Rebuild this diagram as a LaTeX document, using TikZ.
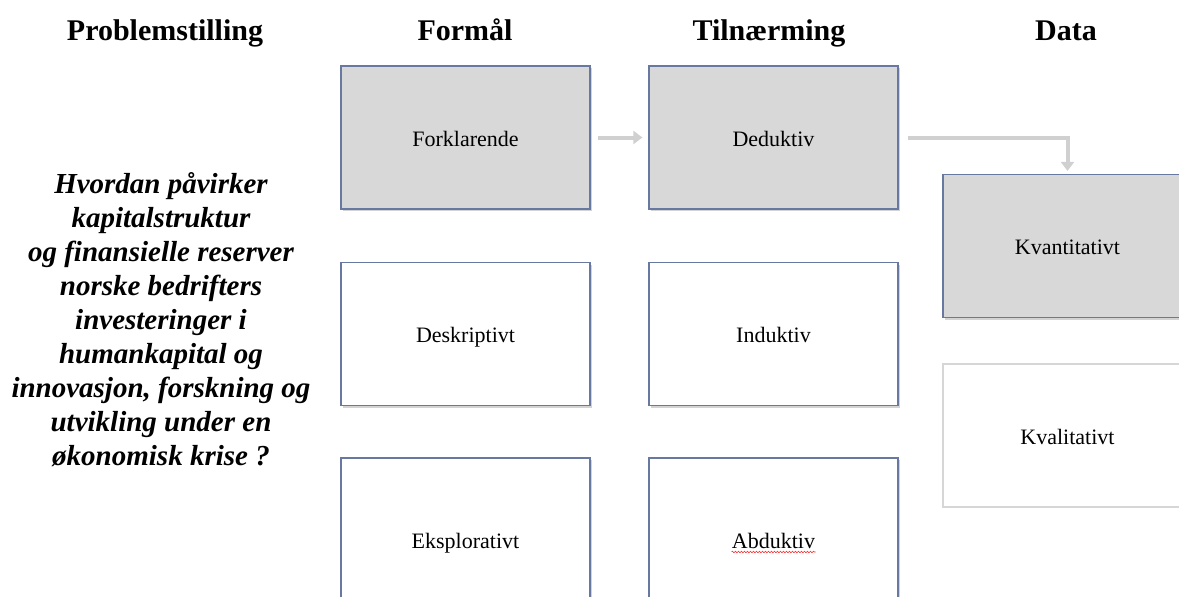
\documentclass[tikz,border=0pt]{standalone}
\usepackage{fontspec}
\setmainfont{Liberation Serif}
\usetikzlibrary{arrows.meta,positioning,shadows,decorations.pathmorphing}
\definecolor{boxline}{RGB}{104,120,160}
\definecolor{boxfill}{RGB}{216,216,216}
\definecolor{arrowgray}{RGB}{208,208,208}
\definecolor{paleline}{RGB}{214,214,214}

\begin{document}
\begin{tikzpicture}[x=1pt,y=-1pt,
	heading/.style={font=\fontsize{30}{36}\selectfont\bfseries,anchor=base},
	card/.style={rectangle,minimum width=249pt,minimum height=143pt,inner sep=0pt,text height=20pt,text depth=3pt,font=\fontsize{22}{26}\selectfont,fill=white},
	choice/.style={card,draw=boxline,line width=1.2pt,drop shadow={shadow xshift=2pt,shadow yshift=-2pt,opacity=0.35}},
	chosen/.style={choice,fill=boxfill},
	flow/.style={draw=arrowgray,line width=4pt,-{Triangle[length=9pt,width=13pt]}}]
	\useasboundingbox (0,0) rectangle (1179,597);
	\clip (0,0) rectangle (1179,597);
	% column headings
	\node[heading] (h1) at (165,40) {Problemstilling};
	\node[heading] (h2) at (465,40) {Formål};
	\node[heading] (h3) at (769,40) {Tilnærming};
	\node[heading] (h4) at (1066,40) {Data};
	% research question
	\node[font=\fontsize{29}{34}\selectfont\bfseries\itshape,align=center] (question) at (161,320)
		{Hvordan påvirker\\ kapitalstruktur\\ og finansielle reserver\\ norske bedrifters\\ investeringer i\\ humankapital og\\ innovasjon, forskning og\\ utvikling under en\\ økonomisk krise ?};
	% purpose
	\node[chosen] (forklarende) at (465.5,137.5) {Forklarende};
	\node[choice] (deskriptivt) at (465.5,334) {Deskriptivt};
	\node[choice,minimum height=164pt] (eksplorativt) at (465.5,540) {Eksplorativt};
	% approach
	\node[chosen] (deduktiv) at (773.5,137.5) {Deduktiv};
	\node[choice] (induktiv) at (773.5,334) {Induktiv};
	\node[choice,minimum height=164pt] (abduktiv) at (773.5,540) {Abduktiv};
	% data
	\node[chosen] (kvantitativt) at (1067.5,246) {Kvantitativt};
	\node[card,draw=paleline,line width=1.2pt] (kvalitativt) at (1067.5,435.5) {Kvalitativt};
	% arrows
	\draw[flow,shorten <=7pt,shorten >=6pt] (forklarende) -- (deduktiv);
	\draw[flow,shorten <=9pt,shorten >=3pt] (deduktiv.east) -| (kvantitativt.north);
	% spell-check mark
	\draw[red!80,line width=0.6pt,decorate,decoration={snake,amplitude=0.8pt,segment length=3pt}]
		([xshift=-42pt,yshift=-12pt]abduktiv.center) -- ([xshift=42pt,yshift=-12pt]abduktiv.center);
\end{tikzpicture}
\end{document}
